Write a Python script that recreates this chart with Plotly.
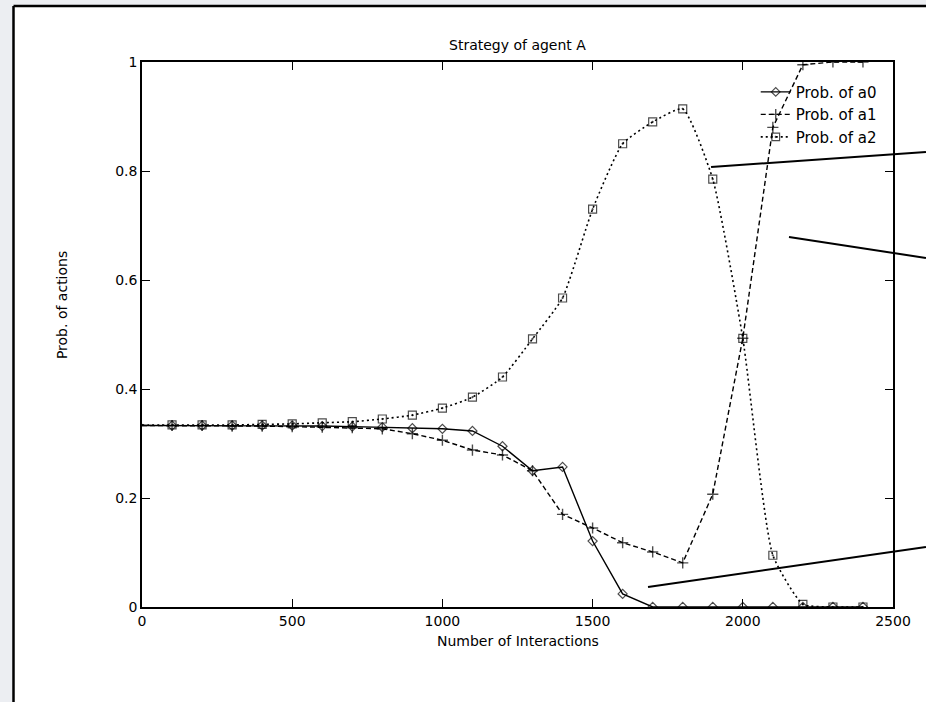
import plotly.graph_objects as go

# ---- data ----
interactions = [0, 100, 200, 300, 400, 500, 600, 700, 800, 900, 1000, 1100, 1200,
                1300, 1400, 1500, 1600, 1700, 1800, 1900, 2000, 2100, 2200, 2300, 2400]
prob_a0 = [0.333, 0.333, 0.333, 0.333, 0.333, 0.333, 0.332, 0.331, 0.330, 0.328, 0.327,
           0.323, 0.295, 0.250, 0.257, 0.121, 0.024, 0.0, 0.0, 0.0, 0.0, 0.0, 0.0, 0.0, 0.0]
prob_a1 = [0.333, 0.333, 0.333, 0.332, 0.332, 0.331, 0.330, 0.329, 0.327, 0.318, 0.306,
           0.288, 0.279, 0.250, 0.170, 0.145, 0.118, 0.101, 0.081, 0.207, 0.493, 0.880,
           0.995, 1.0, 1.0]
prob_a2 = [0.334, 0.334, 0.334, 0.334, 0.335, 0.336, 0.338, 0.340, 0.345, 0.352, 0.365,
           0.385, 0.422, 0.492, 0.567, 0.730, 0.850, 0.890, 0.914, 0.785, 0.493, 0.095,
           0.005, 0.0, 0.0]
series_names = ["Prob. of a0", "Prob. of a1", "Prob. of a2"]
x_ticks = [0, 500, 1000, 1500, 2000, 2500]
y_ticks = [0, 0.2, 0.4, 0.6, 0.8, 1]
y_tick_text = ["0", "0.2", "0.4", "0.6", "0.8", "1"]

FONT = "DejaVu Sans"
marker_sizes = [0] + [1] * (len(interactions) - 1)

fig = go.Figure()
fig.add_trace(go.Scatter(
    x=interactions, y=prob_a0, name=series_names[0], mode="lines+markers",
    line=dict(color="black", width=1.4, dash="solid"),
    marker=dict(symbol="diamond-open", size=[7 * s for s in marker_sizes], color="black",
                line=dict(width=1.2, color="black")),
))
fig.add_trace(go.Scatter(
    x=interactions, y=prob_a1, name=series_names[1], mode="lines+markers",
    line=dict(color="black", width=1.4, dash="5px,3px"),
    marker=dict(symbol="cross-thin-open", size=[8 * s for s in marker_sizes], color="black",
                line=dict(width=1.4, color="black")),
))
fig.add_trace(go.Scatter(
    x=interactions, y=prob_a2, name=series_names[2], mode="lines+markers",
    line=dict(color="black", width=1.6, dash="2px,3px", shape="spline", smoothing=0.5),
    marker=dict(symbol="square-open-dot", size=[8 * s for s in marker_sizes], color="black",
                line=dict(width=1.2, color="black")),
))

# page background and scanned frame
shapes = [
    dict(type="rect", xref="paper", yref="paper", x0=-0.1711, x1=1.1, y0=-0.2, y1=1.1028,
         fillcolor="white", line=dict(width=0), layer="below"),
    dict(type="line", xref="paper", yref="paper", x0=-0.1711, x1=-0.1711, y0=-0.2, y1=1.1028,
         line=dict(color="black", width=2.5)),
    dict(type="line", xref="paper", yref="paper", x0=-0.1711, x1=1.1, y0=1.1028, y1=1.1028,
         line=dict(color="black", width=2.5)),
    # pointer lines leaving the figure on the right
    dict(type="line", xref="paper", yref="paper", x0=0.7577, y0=0.8073, x1=1.0439, y1=0.8349,
         line=dict(color="black", width=2)),
    dict(type="line", xref="paper", yref="paper", x0=0.8615, y0=0.6789, x1=1.0439, y1=0.6404,
         line=dict(color="black", width=2)),
    dict(type="line", xref="paper", yref="paper", x0=0.6738, y0=0.0367, x1=1.0439, y1=0.1101,
         line=dict(color="black", width=2)),
]

annotations = [
    dict(text="Strategy of agent A", xref="paper", yref="paper", x=0.5, y=1.031,
         showarrow=False, font=dict(family=FONT, size=14, color="black"),
         xanchor="center", yanchor="middle"),
    dict(text="Number of Interactions", xref="paper", yref="paper", x=0.5, y=-0.0624,
         showarrow=False, font=dict(family=FONT, size=14, color="black"),
         xanchor="center", yanchor="middle"),
    dict(text="Prob. of actions", xref="paper", yref="paper", x=-0.1065, y=0.554,
         showarrow=False, textangle=-90, font=dict(family=FONT, size=14, color="black"),
         xanchor="center", yanchor="middle"),
]

fig.update_layout(
    width=926, height=702,
    margin=dict(l=142, r=33, t=62, b=95),
    paper_bgcolor="#eceef2",
    plot_bgcolor="white",
    font=dict(family=FONT, size=14, color="black"),
    showlegend=True,
    legend=dict(x=0.985, y=0.975, xanchor="right", yanchor="top",
                bgcolor="rgba(0,0,0,0)", borderwidth=0,
                font=dict(family=FONT, size=15, color="black"),
                tracegroupgap=0, itemwidth=30),
    shapes=shapes,
    annotations=annotations,
)
fig.update_xaxes(range=[0, 2500], tickvals=x_ticks, ticks="inside", ticklen=8, tickwidth=1.2,
                 tickcolor="black", showline=True, linecolor="black", linewidth=1.5,
                 mirror="ticks", showgrid=False, zeroline=False,
                 tickfont=dict(family=FONT, size=14, color="black"))
fig.update_yaxes(range=[0, 1], tickvals=y_ticks, ticktext=y_tick_text, ticks="inside",
                 ticklen=8, tickwidth=1.2, tickcolor="black", showline=True,
                 linecolor="black", linewidth=1.5, mirror="ticks", showgrid=False,
                 zeroline=False, tickfont=dict(family=FONT, size=14, color="black"))

fig.write_html("out.html")
